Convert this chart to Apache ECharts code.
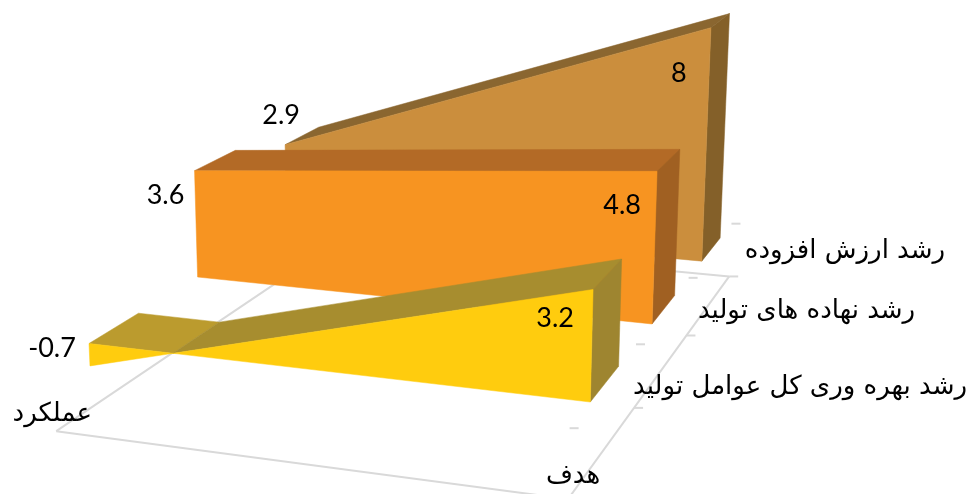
<!DOCTYPE html>
<html><head><meta charset="utf-8"><style>html,body{margin:0;background:#fff}#c{width:971px;height:494px}</style>
<script src="https://cdn.jsdelivr.net/npm/echarts@6/dist/echarts.min.js"></script></head><body><div id="c"></div>
<script>
const categories=['عملکرد','هدف'];
const seriesNames=['رشد بهره وری کل عوامل تولید','رشد نهاده های تولید','رشد ارزش افزوده'];
const actualValues=[-0.7,3.6,2.9];
const targetValues=[3.2,4.8,8];
const slabFront=[0,2.33,4.67], slab=1, cellBounds=[-0.67,1.67,4,6.33];
const vMin=-2,vMax=10;
// perspective camera: x terms, y terms, w terms over (category position, depth, value, 1)
const M=[0.45422,0.05626,-0.00180,0.08901,0.02647,-0.01500,-0.03364,0.34351,-0.07975,0.04886,-0.00438];
function project(c,d,v){const w=1+M[8]*c+M[9]*d+M[10]*v;return [1000*(M[0]*c+M[1]*d+M[2]*v+M[3])/w,1000*(M[4]*c+M[5]*d+M[6]*v+M[7])/w];}
const W=971,H=494;
const colors=[{front:'#FFCC0E',top:'#A78D2F',under:'#BB9B2E',side:'#9E8530'},{front:'#F79421',top:'#B36A26',under:'#B36A26',side:'#A06022'},{front:'#CB8E3D',top:'#8A6630',under:'#8A6630',side:'#846029'}];
const floorColor='#D9D9D9';
const labelOff={actual:[[-38,-18],[-29,25],[-4,-29]],target:[[-38,29],[-35,34],[-32,46]]};
const seriesOff=[[197,-63],[145,-59],[136,-53]];
const catOff=[[-4,-17],[5,-23]];
const numFont='27px Lato',txtFont='26px "DejaVu Sans"';
const toModel=(api,cat,val)=>{const p=api.coord([cat,val]);return [p[0]/W,vMax-p[1]/H*(vMax-vMin)]};
const poly=(pts,fill)=>({type:'polygon',shape:{points:pts},style:{fill,stroke:fill,lineWidth:.5}});
function area(params,api){const i=params.seriesIndex-1,d0=slabFront[i],d1=d0+slab,col=colors[i];
 const [c0,v0]=toModel(api,0,api.value(0)),[c1,v1]=toModel(api,1,api.value(1));
 const P=project,kids=[];
 if(v0<0&&v1>0){const t=c0+(c1-c0)*(-v0)/(v1-v0);
  kids.push(poly([P(c0,d0,0),P(c0,d1,0),P(t,d1,0),P(t,d0,0)],col.under));
  kids.push(poly([P(t,d0,0),P(c1,d0,v1),P(c1,d1,v1),P(t,d1,0)],col.top));
  kids.push(poly([P(c1,d0,0),P(c1,d1,0),P(c1,d1,v1),P(c1,d0,v1)],col.side));
  kids.push(poly([P(c0,d0,0),P(t,d0,0),P(c0,d0,v0)],col.front));
  kids.push(poly([P(t,d0,0),P(c1,d0,v1),P(c1,d0,0)],col.front));
 }else{
  kids.push(poly([P(c0,d0,v0),P(c0,d1,v0),P(c1,d1,v1),P(c1,d0,v1)],col.top));
  kids.push(poly([P(c1,d0,0),P(c1,d1,0),P(c1,d1,v1),P(c1,d0,v1)],col.side));
  kids.push(poly([P(c0,d0,0),P(c0,d0,v0),P(c1,d0,v1),P(c1,d0,0)],col.front));
 }
 const lab=(c,v,val,off)=>{const p=P(c,d0,v);return {type:'text',x:p[0]+off[0],y:p[1]+off[1],style:{text:String(val),font:numFont,fill:'#000',align:'center',verticalAlign:'middle'}}};
 kids.push(lab(c0,v0,api.value(0),labelOff.actual[i]));
 kids.push(lab(c1,v1,api.value(1),labelOff.target[i]));
 return {type:'group',children:kids};}
function floor(params,api){const kids=[];const [c0]=toModel(api,0,0),[c1]=toModel(api,1,0);
 const Dn=cellBounds[0],Df=cellBounds[cellBounds.length-1];
 const seg=(a,b,w)=>({type:'line',shape:{x1:a[0],y1:a[1],x2:b[0],y2:b[1]},style:{stroke:floorColor,lineWidth:w}});
 kids.push(seg(project(c0,Dn,vMin),project(c0,Df,vMin),2));
 kids.push(seg(project(c0,Dn,vMin),project(c1,Dn,vMin),2));
 kids.push(seg(project(c1,Dn,vMin),project(c1,Df,vMin),2));
 kids.push(seg(project(c0,Df,vMin),project(c1,Df,vMin),2));
 for(const d of cellBounds)for(const v of [0,vMin]){const a=project(c1,d,v);kids.push(seg(a,[a[0]+9,a[1]],2));}
 seriesNames.forEach((s,i)=>{const p=project(c1,slabFront[i]+slab/2,vMin);kids.push({type:'text',x:p[0]+seriesOff[i][0],y:p[1]+seriesOff[i][1],style:{text:s,font:txtFont,fill:'#000',align:'center',verticalAlign:'middle'}})});
 [c0,c1].forEach((c,i)=>{const p=project(c,Dn,vMin);kids.push({type:'text',x:p[0]+catOff[i][0],y:p[1]+catOff[i][1],style:{text:categories[i],font:txtFont,fill:'#000',align:'center',verticalAlign:'middle'}})});
 return {type:'group',children:kids};}
const rows=seriesNames.map((n,i)=>[actualValues[i],targetValues[i]]);
const chart=echarts.init(document.getElementById('c'),null,{renderer:'canvas'});
chart.setOption({animation:false,grid:{left:0,top:0,width:W,height:H},
 xAxis:{type:'category',data:categories,boundaryGap:false,show:false},
 yAxis:{type:'value',min:vMin,max:vMax,show:false},
 series:[{type:'custom',silent:true,clip:false,z:1,data:[[0,0]],renderItem:floor}].concat(seriesNames.map((n,i)=>({type:'custom',name:n,silent:true,clip:false,z:4-i,data:[rows[i]],renderItem:area})))});
</script></body></html>
